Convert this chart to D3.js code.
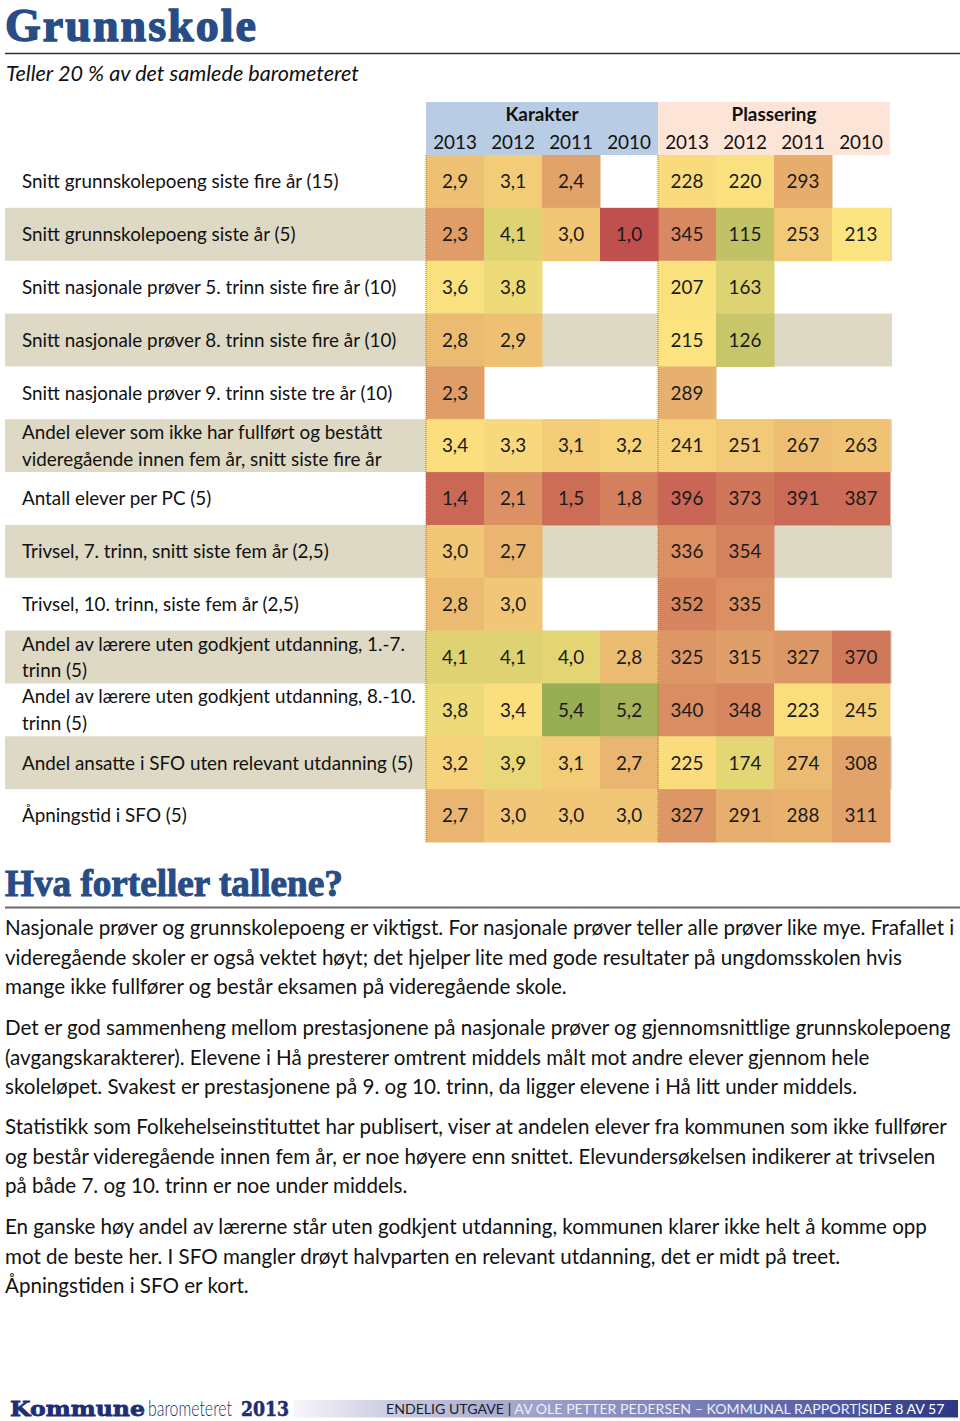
<!DOCTYPE html>
<html><head><meta charset="utf-8">
<script src="https://cdn.jsdelivr.net/npm/d3@7/dist/d3.min.js"></script>
<style>
html,body{margin:0;padding:0;background:#fff;}
svg{display:block;}
</style></head>
<body>
<svg id="c" width="960" height="1421"></svg>
<script>
// ---------- DATA ----------
const title = "Grunnskole";
const subtitle = "Teller 20 % av det samlede barometeret";
const groups = ["Karakter", "Plassering"];
const years = ["2013", "2012", "2011", "2010"];
const rowLabels = [
  ["Snitt grunnskolepoeng siste fire år (15)"],
  ["Snitt grunnskolepoeng siste år (5)"],
  ["Snitt nasjonale prøver 5. trinn siste fire år (10)"],
  ["Snitt nasjonale prøver 8. trinn siste fire år (10)"],
  ["Snitt nasjonale prøver 9. trinn siste tre år (10)"],
  ["Andel elever som ikke har fullført og bestått", "videregående innen fem år, snitt siste fire år"],
  ["Antall elever per PC (5)"],
  ["Trivsel, 7. trinn, snitt siste fem år (2,5)"],
  ["Trivsel, 10. trinn, siste fem år (2,5)"],
  ["Andel av lærere uten godkjent utdanning, 1.-7.", "trinn (5)"],
  ["Andel av lærere uten godkjent utdanning, 8.-10.", "trinn (5)"],
  ["Andel ansatte i SFO uten relevant utdanning (5)"],
  ["Åpningstid i SFO (5)"]
];
const karakter = [
  [2.9, 3.1, 2.4, null],
  [2.3, 4.1, 3.0, 1.0],
  [3.6, 3.8, null, null],
  [2.8, 2.9, null, null],
  [2.3, null, null, null],
  [3.4, 3.3, 3.1, 3.2],
  [1.4, 2.1, 1.5, 1.8],
  [3.0, 2.7, null, null],
  [2.8, 3.0, null, null],
  [4.1, 4.1, 4.0, 2.8],
  [3.8, 3.4, 5.4, 5.2],
  [3.2, 3.9, 3.1, 2.7],
  [2.7, 3.0, 3.0, 3.0]
];
const plassering = [
  [228, 220, 293, null],
  [345, 115, 253, 213],
  [207, 163, null, null],
  [215, 126, null, null],
  [289, null, null, null],
  [241, 251, 267, 263],
  [396, 373, 391, 387],
  [336, 354, null, null],
  [352, 335, null, null],
  [325, 315, 327, 370],
  [340, 348, 223, 245],
  [225, 174, 274, 308],
  [327, 291, 288, 311]
];
const sectionTitle = "Hva forteller tallene?";
const paragraphs = [
  ["Nasjonale prøver og grunnskolepoeng er viktigst. For nasjonale prøver teller alle prøver like mye. Frafallet i",
   "videregående skoler er også vektet høyt; det hjelper lite med gode resultater på ungdomsskolen hvis",
   "mange ikke fullfører og består eksamen på videregående skole."],
  ["Det er god sammenheng mellom prestasjonene på nasjonale prøver og gjennomsnittlige grunnskolepoeng",
   "(avgangskarakterer). Elevene i Hå presterer omtrent middels målt mot andre elever gjennom hele",
   "skoleløpet. Svakest er prestasjonene på 9. og 10. trinn, da ligger elevene i Hå litt under middels."],
  ["Statistikk som Folkehelseinstituttet har publisert, viser at andelen elever fra kommunen som ikke fullfører",
   "og består videregående innen fem år, er noe høyere enn snittet. Elevundersøkelsen indikerer at trivselen",
   "på både 7. og 10. trinn er noe under middels."],
  ["En ganske høy andel av lærerne står uten godkjent utdanning, kommunen klarer ikke helt å komme opp",
   "mot de beste her. I SFO mangler drøyt halvparten en relevant utdanning, det er midt på treet.",
   "Åpningstiden i SFO er kort."]
];
const logoParts = ["Kommune", "barometeret", "2013"];
const footerParts = [
  {t: "ENDELIG UTGAVE ", c: "#1c1c24"},
  {t: "| ", c: "#1c1c24"},
  {t: "AV OLE PETTER PEDERSEN – KOMMUNAL RAPPORT", c: "#eceefa"},
  {t: "|", c: "#ffffff"},
  {t: "SIDE 8 AV 57", c: "#ffffff"}
];

// ---------- SETUP ----------
const svg = d3.select("#c");
const SANS = "Lato, 'Open Sans', sans-serif";
const SERIF = "'Liberation Serif', 'DejaVu Serif', serif";
const DSERIF = "'DejaVu Serif', serif";
const BLUE_T = "#274c86";
const nf = d3.formatLocale({decimal: ",", thousands: " ", grouping: [3], currency: ["", ""]}).format(".1f");

function measure(text, size, family, weight, style) {
  const t = svg.append("text").attr("font-family", family).attr("font-size", size)
    .attr("font-weight", weight || "normal").attr("font-style", style || "normal").text(text);
  const w = t.node().getComputedTextLength();
  t.remove();
  return w;
}
function fitSize(text, target, family, weight, style) {
  return 100 * target / measure(text, 100, family, weight, style);
}
// draws text at given size, horizontally scaled to a target width
function scaledText(str, x0, y0, target, size, family, weight, fill, strokeW) {
  const w = measure(str, size, family, weight);
  const t = svg.append("text")
    .attr("transform", `translate(${x0},${y0}) scale(${target / w},1)`)
    .attr("font-family", family).attr("font-weight", weight).attr("font-size", size)
    .attr("fill", fill).text(str);
  if (strokeW) t.attr("stroke", fill).attr("stroke-width", strokeW);
  return t;
}

// ---------- TITLE ----------
const TSIZE = 46;
const tw = measure(title, TSIZE, SERIF, "bold");
svg.append("text").attr("x", 5).attr("y", 41)
  .attr("font-family", SERIF).attr("font-weight", "bold").attr("font-size", TSIZE)
  .attr("letter-spacing", (251 - tw) / (title.length - 1))
  .attr("fill", BLUE_T).attr("stroke", BLUE_T).attr("stroke-width", 1.4)
  .text(title);
svg.append("line").attr("x1", 5).attr("x2", 960).attr("y1", 53.5).attr("y2", 53.5)
  .attr("stroke", "#333").attr("stroke-width", 1.3);
const subSize = fitSize(subtitle, 353, SANS, "normal", "italic");
svg.append("text").attr("x", 6).attr("y", 81)
  .attr("font-family", SANS).attr("font-style", "italic").attr("font-size", subSize)
  .attr("fill", "#111").text(subtitle);

// ---------- TABLE ----------
const tableSize = fitSize("Andel ansatte i SFO uten relevant utdanning (5)", 391, SANS);
const colKeys = [];
groups.forEach(g => years.forEach(y => colKeys.push(g + "|" + y)));
const x = d3.scaleBand().domain(colKeys).range([426, 890]);
const y = d3.scaleBand().domain(d3.range(rowLabels.length)).range([155, 842]);
const headerTop = 102;

const red = "#c0504d", yellow = "#fde480", green = "#7a9b46";
const kColor = d3.scaleLinear().domain([1, 3.5, 6]).range([red, yellow, green]).clamp(true);
const pColor = d3.scaleLinear().domain([428, 214, 1]).range([red, yellow, green]).clamp(true);

const headerFill = ["#b8cce4", "#fce4d6"];
groups.forEach((g, gi) => {
  const x0 = x(g + "|" + years[0]);
  const x1 = x(g + "|" + years[years.length - 1]) + x.bandwidth();
  svg.append("rect").attr("x", x0).attr("y", headerTop).attr("width", x1 - x0)
    .attr("height", y(0) - headerTop).attr("fill", headerFill[gi]);
  svg.append("text").attr("x", (x0 + x1) / 2).attr("y", 121)
    .attr("text-anchor", "middle").attr("font-family", SANS).attr("font-weight", "bold")
    .attr("font-size", tableSize).attr("fill", "#111").text(g);
  years.forEach(yr => {
    svg.append("text").attr("x", x(g + "|" + yr) + x.bandwidth() / 2).attr("y", 149)
      .attr("text-anchor", "middle").attr("font-family", SANS)
      .attr("font-size", tableSize).attr("fill", "#111").text(yr);
  });
});

svg.selectAll("rect.band").data(rowLabels.map((d, i) => i).filter(i => i % 2 === 1))
  .enter().append("rect").attr("class", "band")
  .attr("x", 5).attr("width", 892 - 5)
  .attr("y", d => y(d)).attr("height", y.bandwidth())
  .attr("fill", "#ddd9c4");

rowLabels.forEach((lines, i) => {
  const cy = y(i) + y.bandwidth() / 2;
  const t = svg.append("text").attr("font-family", SANS).attr("font-size", tableSize).attr("fill", "#111");
  lines.forEach((ln, li) => {
    const off = (li - (lines.length - 1) / 2) * 26.5;
    t.append("tspan").attr("x", 22).attr("y", cy + off).attr("dy", "0.36em").text(ln);
  });
});

const cells = [];
rowLabels.forEach((_, i) => {
  years.forEach((yr, j) => {
    const kv = karakter[i][j], pv = plassering[i][j];
    cells.push({row: i, key: "Karakter|" + yr, v: kv, txt: kv == null ? "" : nf(kv), fill: kv == null ? null : kColor(kv)});
    cells.push({row: i, key: "Plassering|" + yr, v: pv, txt: pv == null ? "" : String(pv), fill: pv == null ? null : pColor(pv)});
  });
});
const filled = cells.filter(d => d.v != null);
svg.selectAll("rect.cell").data(filled).enter().append("rect").attr("class", "cell")
  .attr("x", d => x(d.key)).attr("y", d => y(d.row))
  .attr("width", x.bandwidth() + 0.5).attr("height", y.bandwidth() + 0.5)
  .attr("fill", d => d.fill);
svg.selectAll("text.cell").data(filled).enter().append("text").attr("class", "cell")
  .attr("x", d => x(d.key) + x.bandwidth() / 2)
  .attr("y", d => y(d.row) + y.bandwidth() / 2).attr("dy", "0.36em")
  .attr("text-anchor", "middle").attr("font-family", SANS).attr("font-size", tableSize)
  .attr("fill", "#1a1a1a").text(d => d.txt);

groups.forEach(g => {
  const xx = x(g + "|" + years[0]);
  svg.append("line").attr("x1", xx).attr("x2", xx).attr("y1", y(0)).attr("y2", y.range()[1])
    .attr("stroke", "#7a7a7a").attr("stroke-width", 1).attr("stroke-dasharray", "1,1");
});

// ---------- SECTION ----------
const secSize = fitSize(sectionTitle, 338, SERIF, "bold");
svg.append("text").attr("x", 5).attr("y", 896)
  .attr("font-family", SERIF).attr("font-weight", "bold").attr("font-size", secSize)
  .attr("fill", BLUE_T).attr("stroke", BLUE_T).attr("stroke-width", 1)
  .text(sectionTitle);
svg.append("line").attr("x1", 5).attr("x2", 960).attr("y1", 907.5).attr("y2", 907.5)
  .attr("stroke", "#6b6b6b").attr("stroke-width", 2);

const pSize = fitSize(paragraphs[0][0], 950, SANS);
const paraTop = [935, 1035, 1134, 1234];
paragraphs.forEach((lines, pi) => {
  lines.forEach((ln, li) => {
    svg.append("text").attr("x", 5).attr("y", paraTop[pi] + li * 29.6)
      .attr("font-family", SANS).attr("font-size", pSize).attr("fill", "#111").text(ln);
  });
});

// ---------- FOOTER ----------
const defs = svg.append("defs");
const grad = defs.append("linearGradient").attr("id", "fg").attr("x1", "0%").attr("x2", "100%");
[["0%", "#f6f6fa"], ["15%", "#c9cadf"], ["36%", "#9fa2c9"], ["70%", "#6a70b0"], ["100%", "#2b3785"]]
  .forEach(s => grad.append("stop").attr("offset", s[0]).attr("stop-color", s[1]));
svg.append("rect").attr("x", 294).attr("y", 1400).attr("width", 664).attr("height", 17.5)
  .attr("fill", "url(#fg)");

const LOGO_C = "#1f2e74";
scaledText(logoParts[0], 10, 1416, 135, 21, DSERIF, "bold", LOGO_C, 0.8);
scaledText(logoParts[1], 148, 1416, 84, 21, SANS, 300, LOGO_C, 0);
scaledText(logoParts[2], 241, 1416, 48, 20, DSERIF, "bold", LOGO_C, 0.6);

const fullFooter = footerParts.map(d => d.t).join("");
const fSize = fitSize(fullFooter, 559, SANS);
const ft = svg.append("text").attr("x", 386).attr("y", 1414).attr("font-family", SANS).attr("font-size", fSize);
footerParts.forEach(p => ft.append("tspan").attr("fill", p.c).text(p.t));
</script>
</body></html>
